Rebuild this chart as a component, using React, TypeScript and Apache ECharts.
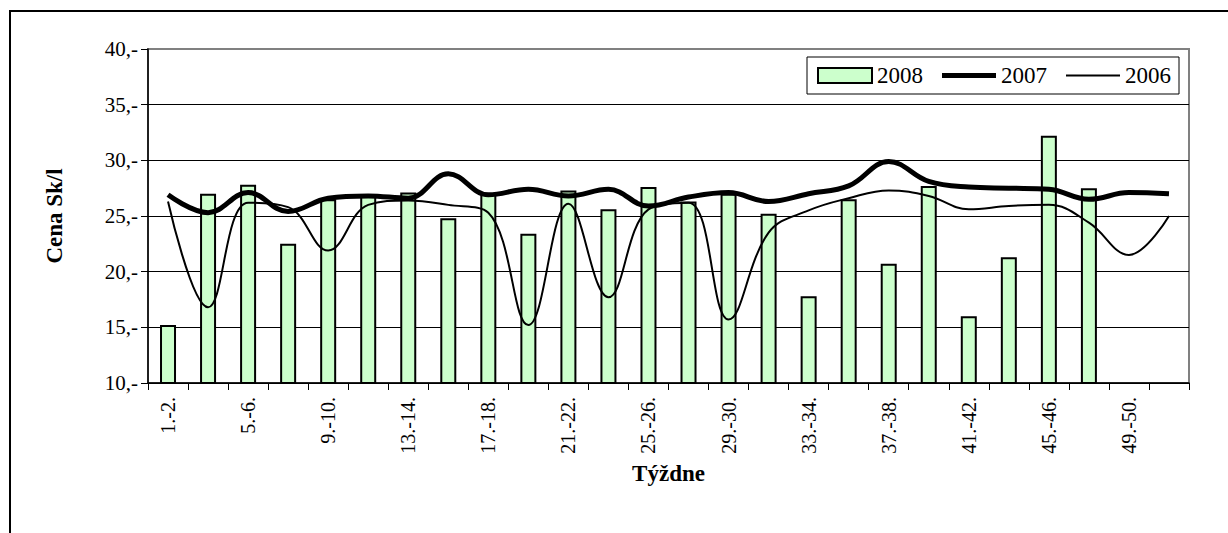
import React, { useEffect, useRef } from "react";
import * as echarts from "echarts";

const categories = [
  "1.-2.", "3.-4.", "5.-6.", "7.-8.", "9.-10.", "11.-12.", "13.-14.", "15.-16.",
  "17.-18.", "19.-20.", "21.-22.", "23.-24.", "25.-26.", "27.-28.", "29.-30.", "31.-32.",
  "33.-34.", "35.-36.", "37.-38.", "39.-40.", "41.-42.", "43.-44.", "45.-46.", "47.-48.",
  "49.-50.", "51.-52.",
];

const values2008: (number | null)[] = [
  15.2, 27.0, 27.8, 22.5, 26.5, 26.8, 27.1, 24.8, 27.0, 23.4, 27.3, 25.6, 27.6,
  26.3, 27.0, 25.2, 17.8, 26.5, 20.7, 27.7, 16.0, 21.3, 32.2, 27.5, null, null,
];

const values2007 = [
  26.9, 25.3, 27.1, 25.4, 26.6, 26.8, 26.6, 28.8, 26.9, 27.4, 26.8, 27.4, 25.9,
  26.7, 27.1, 26.3, 27.0, 27.7, 29.9, 28.1, 27.6, 27.5, 27.4, 26.5, 27.1, 27.0,
];

const values2006 = [
  26.3, 16.8, 26.2, 25.8, 21.9, 26.0, 26.4, 26.0, 25.3, 15.2, 26.1, 17.7, 25.6,
  26.2, 15.7, 23.5, 25.5, 26.6, 27.3, 26.8, 25.6, 25.9, 26.0, 24.4, 21.5, 25.0,
];

const yMin = 10;
const yMax = 40;
const yStep = 5;

const FONT = "'Liberation Serif', 'Times New Roman', serif";

const thickIcon = "path://M0,0 M0,5 L54,5 L54,10 L0,10 Z M54,15";
const thinIcon = "path://M0,0 M0,6.5 L54,6.5 L54,8.5 L0,8.5 Z M54,15";

export default function App() {
  const ref = useRef<HTMLDivElement>(null);

  useEffect(() => {
    document.body.style.margin = "0";
    if (!ref.current) return;
    const chart = echarts.init(ref.current, null, { renderer: "svg" });
    chart.setOption({
      animation: false,
      backgroundColor: "#ffffff",
      textStyle: { fontFamily: FONT, color: "#000" },
      graphic: [
        {
          type: "rect",
          shape: { x: 10, y: 11, width: 1400, height: 700 },
          style: { fill: "none", stroke: "#000", lineWidth: 2 },
          silent: true,
        },
      ],
      grid: {
        left: 148,
        right: 39,
        top: 49,
        bottom: 150,
        show: true,
        borderColor: "#808080",
        borderWidth: 2,
        containLabel: false,
      },
      legend: {
        left: 807,
        top: 57,
        orient: "horizontal",
        backgroundColor: "#fff",
        borderColor: "#000",
        borderWidth: 1,
        padding: [7, 8, 7, 10],
        itemGap: 19,
        itemWidth: 54,
        itemHeight: 15,
        textStyle: { fontFamily: FONT, fontSize: 23, color: "#000", padding: [0, 0, 0, 0] },
        data: [
          { name: "2008", icon: "rect", itemStyle: { color: "#CCFFCC", borderColor: "#000", borderWidth: 2 } },
          { name: "2007", icon: thickIcon, itemStyle: { color: "#000", borderWidth: 0 } },
          { name: "2006", icon: thinIcon, itemStyle: { color: "#000", borderWidth: 0 } },
        ],
      },
      xAxis: {
        type: "category",
        data: categories,
        boundaryGap: true,
        name: "Týždne",
        nameLocation: "middle",
        nameGap: 78,
        nameTextStyle: { fontFamily: FONT, fontSize: 23, fontWeight: "bold", color: "#000" },
        axisLine: { lineStyle: { color: "#000", width: 1.5 } },
        axisTick: { show: true, interval: 0, length: 7, lineStyle: { color: "#000" } },
        axisLabel: {
          interval: 1,
          rotate: 90,
          margin: 14,
          fontFamily: FONT,
          fontSize: 20,
          color: "#000",
        },
        splitLine: { show: false },
      },
      yAxis: {
        type: "value",
        min: yMin,
        max: yMax,
        interval: yStep,
        name: "Cena Sk/l",
        nameLocation: "middle",
        nameGap: 82,
        nameRotate: 90,
        nameTextStyle: { fontFamily: FONT, fontSize: 23, fontWeight: "bold", color: "#000" },
        axisLine: { show: true, lineStyle: { color: "#000", width: 1.5 } },
        axisTick: { show: true, length: 7, lineStyle: { color: "#000" } },
        axisLabel: {
          formatter: (v: number) => `${v},-`,
          margin: 10,
          fontFamily: FONT,
          fontSize: 21,
          color: "#000",
        },
        splitLine: {
          show: true,
          lineStyle: {
            color: ["#000", "#000", "#000", "#000", "#000", "#000", "#808080"],
            width: 1,
          },
        },
      },
      series: [
        {
          name: "2008",
          type: "bar",
          data: values2008,
          barWidth: 16,
          itemStyle: { color: "#CCFFCC", borderColor: "#000", borderWidth: 2 },
          z: 2,
        },
        {
          name: "2007",
          type: "line",
          data: values2007,
          smooth: 0.4,
          symbol: "none",
          lineStyle: { color: "#000", width: 5 },
          itemStyle: { color: "#000" },
          z: 4,
        },
        {
          name: "2006",
          type: "line",
          data: values2006,
          smooth: 0.4,
          symbol: "none",
          lineStyle: { color: "#000", width: 2 },
          itemStyle: { color: "#000" },
          z: 3,
        },
      ],
    });
    return () => chart.dispose();
  }, []);

  return <div ref={ref} style={{ width: 1228, height: 533 }} />;
}
